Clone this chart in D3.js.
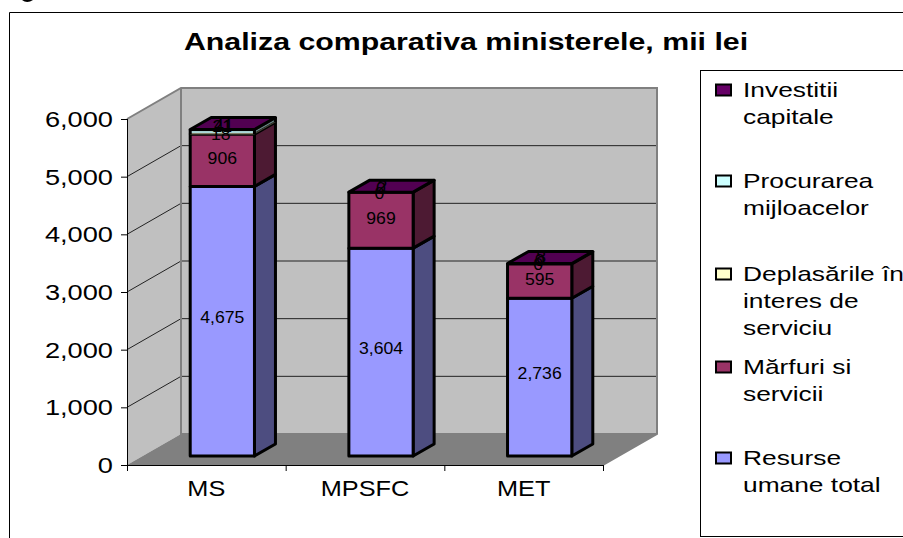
<!DOCTYPE html>
<html><head><meta charset="utf-8">
<style>html,body{margin:0;padding:0;background:#fff}svg{display:block}text{font-family:"Liberation Sans",Arial,sans-serif;fill:#000}</style>
<script src="https://cdn.jsdelivr.net/npm/d3@7"></script></head>
<body><script>
const categories=["MS","MPSFC","MET"];
const seriesNames=["Resurse umane total","Mărfuri si servicii","Deplasările în interes de serviciu","Procurarea mijloacelor","Investitii capitale"];
const resurse=[4675,3604,2736];
const marfuri=[906,969,595];
const deplasari=[18,0,0];
const procurarea=[41,2,8];
const investitii=[21,0,0];
const colors=["#9999ff","#993366","#ffffcc","#ccffff","#660066"];
const yTicks=[0,1000,2000,3000,4000,5000,6000];
const titleText="Analiza comparativa ministerele, mii lei";
const legendRows=[["Investitii","capitale"],["Procurarea","mijloacelor"],["Deplasările în","interes de","serviciu"],["Mărfuri si","servicii"],["Resurse","umane total"]];

const W=903,H=538;
const svg=d3.select("body").append("svg").attr("width",W).attr("height",H);
const x=d3.scaleBand().domain(categories).range([127,603]);
const y=d3.scaleLinear().domain([0,6000]).range([465,119]);
const depth={dx:54,dy:-31}, inset={dx:16,dy:-9}, barD={dx:21,dy:-12};
const barW=x.bandwidth()*0.405;
const poly=p=>p.map(a=>a.join(",")).join(" ");
const shade=(c,k)=>{const r=d3.rgb(c);return d3.rgb(r.r*k,r.g*k,r.b*k).formatHex();};

// chart frame and the clipped glyph tail above it
svg.append("path").attr("d",`M9.5,${H} V12.5 H${W}`).attr("fill","none").attr("stroke","#000").attr("stroke-width",1);
svg.append("path").attr("d","M22,0 Q27,4 33,0 Z").attr("fill","#000");

// walls and floor
const x0=x.range()[0],x1=x.range()[1],y0=y(0),yT=y(6000);
const wall="#c0c0c0",edge="#808080";
svg.append("polygon").attr("points",poly([[x0,y0],[x0,yT],[x0+depth.dx,yT+depth.dy],[x0+depth.dx,y0+depth.dy]])).attr("fill",wall);
svg.append("polygon").attr("points",poly([[x0+depth.dx,y0+depth.dy],[x0+depth.dx,yT+depth.dy],[x1+depth.dx,yT+depth.dy],[x1+depth.dx,y0+depth.dy]])).attr("fill",wall);
svg.append("polygon").attr("points",poly([[x0,y0],[x0+depth.dx,y0+depth.dy],[x1+depth.dx,y0+depth.dy],[x1,y0]])).attr("fill",edge);
// gridlines
yTicks.slice(1,-1).forEach(t=>{
  svg.append("path").attr("fill","none").attr("stroke","#222").attr("stroke-width",1)
   .attr("d",`M${x0},${y(t)} L${x0+depth.dx},${y(t)+depth.dy} H${x1+depth.dx}`);
});
// wall edges
svg.append("path").attr("fill","none").attr("stroke",edge).attr("stroke-width",2)
 .attr("d",`M${x0},${yT} L${x0+depth.dx},${yT+depth.dy} H${x1+depth.dx} V${y0+depth.dy} L${x1},${y0}`);
svg.append("path").attr("fill","none").attr("stroke",edge).attr("stroke-width",2)
 .attr("d",`M${x0+depth.dx},${yT+depth.dy} V${y0+depth.dy} H${x1+depth.dx}`);

// bars
const rows=categories.map((c,i)=>({c,s0:resurse[i],s1:marfuri[i],s2:deplasari[i],s3:procurarea[i],s4:investitii[i]}));
const stack=d3.stack().keys(["s0","s1","s2","s3","s4"])(rows);
const bars=svg.append("g");
stack.forEach((layer,si)=>{
  layer.forEach((d,i)=>{
    if(d[1]===d[0]) return;
    const l=x(categories[i])+(x.bandwidth()-barW)/2+inset.dx, r=l+barW;
    const yb=y(d[0])+inset.dy, yt=y(d[1])+inset.dy;
    const big=si<2;
    const g=bars.append("g").attr("stroke","#000").attr("stroke-width",big?3:0.4).attr("stroke-linejoin","round");
    g.append("polygon").attr("points",poly([[r,yb],[r+barD.dx,yb+barD.dy],[r+barD.dx,yt+barD.dy],[r,yt]])).attr("fill",shade(colors[si],0.5));
    g.append("polygon").attr("points",poly([[l,yb],[r,yb],[r,yt],[l,yt]])).attr("fill",colors[si]);
  });
});
// top face and outline of every stack
categories.forEach((c,i)=>{
  const tot=d3.max(stack,l=>l[i][1]);
  const l=x(c)+(x.bandwidth()-barW)/2+inset.dx,r=l+barW,yt=y(tot)+inset.dy;
  const yMid=y(resurse[i]+marfuri[i])+inset.dy;
  bars.append("polygon").attr("points",poly([[l,yt],[r,yt],[r+barD.dx,yt+barD.dy],[l+barD.dx,yt+barD.dy]]))
    .attr("fill",shade(colors[4],0.8)).attr("stroke","#000").attr("stroke-width",3).attr("stroke-linejoin","round");
  bars.append("path").attr("fill","none").attr("stroke","#000").attr("stroke-width",3).attr("stroke-linejoin","round")
    .attr("d",`M${l},${yMid}V${yt}M${r},${yMid}V${yt}M${r+barD.dx},${yMid+barD.dy}V${yt+barD.dy}`);
});

// data labels
const labelOffsets=[-3.5,-1.5,1,-6,-3];
const labelShifts=[0,0,-1.5,1.5,0];
const fmt=d3.format(",");
stack.forEach((layer,si)=>{
  layer.forEach((d,i)=>{
    const cx=x(categories[i])+x.bandwidth()/2+inset.dx+labelShifts[si];
    const cy=y((d[0]+d[1])/2)+inset.dy+labelOffsets[si];
    svg.append("text").attr("transform",`translate(${cx},${cy}) scale(1.07,1)`)
      .attr("text-anchor","middle").attr("dominant-baseline","central").attr("font-size",16.5)
      .text(fmt(d[1]-d[0]));
  });
});

// axes
const ay=svg.append("g").attr("transform",`translate(${x0},0)`)
  .call(d3.axisLeft(y).tickValues(yTicks).tickFormat(fmt).tickSize(6).tickPadding(0));
ay.select(".domain").attr("stroke","#000").attr("d",`M0.5,${yT}V${y0}`);
ay.selectAll("text").attr("font-size",22).attr("dy",0).attr("dominant-baseline","central")
  .attr("x",null).attr("transform",`translate(-14,0) scale(1.237,1)`).attr("text-anchor","end");
const ax=svg.append("g").attr("transform",`translate(0,${y0})`)
  .call(d3.axisBottom(x).tickSize(0).tickPadding(0));
ax.select(".domain").attr("stroke","#000").attr("d",`M${x0},0.5H${x1}`);
ax.selectAll("text").attr("font-size",22).attr("y",null).attr("dy",0).attr("dominant-baseline","central")
  .attr("transform",`translate(0,24) scale(1.15,1)`);
ax.selectAll(".tick line").remove();
const edges=[...x.domain().map(d=>x(d)),x1];
ax.selectAll("path.edge").data(edges).join("path").attr("class","edge").attr("stroke","#000")
  .attr("d",d=>`M${d+0.5},0V6`);

// title
svg.append("text").attr("transform",`translate(466,49.5) scale(1.29,1)`).attr("text-anchor","middle")
  .attr("font-size",23.5).attr("font-weight","bold").text(titleText);

// legend
svg.append("rect").attr("x",700.5).attr("y",70.5).attr("width",260).attr("height",466).attr("fill","#fff").attr("stroke","#000");
const legendOrder=[4,3,2,1,0];
const legendY=[90,181,274,367,458];
legendRows.forEach((lines,k)=>{
  const yy=legendY[k];
  svg.append("rect").attr("x",716).attr("y",yy-5.5).attr("width",15).attr("height",11)
    .attr("fill",colors[legendOrder[k]]).attr("stroke","#000").attr("stroke-width",2);
  lines.forEach((t,j)=>{
    svg.append("text").attr("transform",`translate(743,${yy+j*27}) scale(1.285,1)`)
      .attr("dominant-baseline","central").attr("font-size",20.5).text(t);
  });
});
</script></body></html>
